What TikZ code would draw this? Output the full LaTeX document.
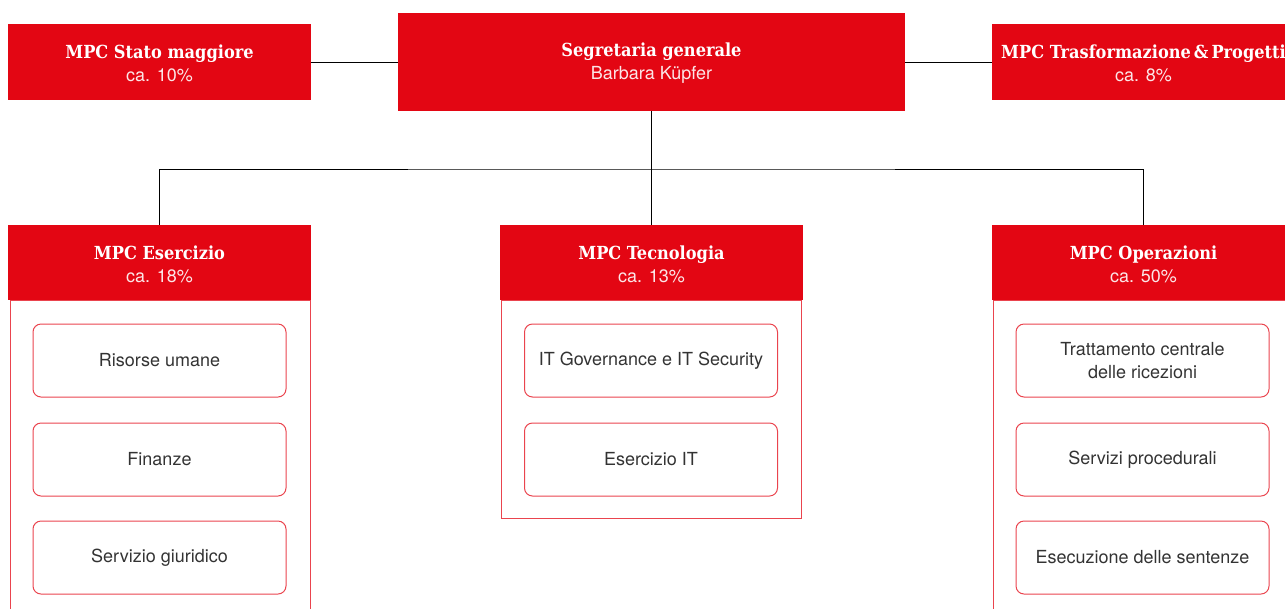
\documentclass[tikz,border=0pt]{standalone}
\usepackage{fontspec}
\setmainfont{TeX Gyre Heros}
\newfontfamily\slab{DejaVu Serif Condensed}
\usetikzlibrary{positioning}

\definecolor{mpcred}{HTML}{E30613}
\definecolor{txtgray}{HTML}{333333}
\newcommand\headtext[2]{\rule{0pt}{12.5pt}{\slab\bfseries #1}\\{\color{white!90!mpcred}#2}}

\begin{document}
\begin{tikzpicture}[x=0.75pt, y=-0.75pt, font=\fontsize{13.5}{17.25}\selectfont,
  head/.style={fill=mpcred, text=white, align=center, inner sep=0pt, minimum width=227.25pt, minimum height=56.5pt},
  unit/.style={draw=mpcred!75, line width=0.75pt, rounded corners=6pt, text=txtgray, align=center, inner sep=0pt, minimum width=189.75pt, minimum height=54.75pt},
  frame/.style={draw=mpcred!75, line width=0.75pt},
  link/.style={draw=black, line width=0.75pt}]
\useasboundingbox (0,0) rectangle (1285,608);

% top row
\node[head] (sm) at (159.5,62) {\headtext{MPC Stato maggiore}{ca. 10\%}};
\node[head, minimum width=380.25pt, minimum height=73.5pt] (sg) at (651.5,62) {\headtext{Segretaria generale}{Barbara Küpfer}};
\node[head] (tp) at (1143.5,62) {\headtext{MPC Trasformazione\,\&\,Progetti}{ca. 8\%}};
\draw[link] (sm) -- (sg);
\draw[link] (sg) -- (tp);

% frames behind the divisions
\draw[frame] (10,300) rectangle (310,640);
\draw[frame] (501,300) rectangle (801,518);
\draw[frame] (993,300) rectangle (1293,640);

% divisions
\node[head] (es) at (159.5,262.5) {\headtext{MPC Esercizio}{ca. 18\%}};
\node[head] (te) at (651.5,262.5) {\headtext{MPC Tecnologia}{ca. 13\%}};
\node[head] (op) at (1143.5,262.5) {\headtext{MPC Operazioni}{ca. 50\%}};
\coordinate (bus) at (651.5,169);
\draw[link] (sg) -- (te);
\draw[link] (es.north) |- (bus) -| (op.north);

% units
\node[unit] (es1) at (159.5,360.5) {Risorse umane};
\node[unit] (es2) at (159.5,459.5) {Finanze};
\node[unit] (es3) at (159.5,557.5) {Servizio giuridico};
\node[unit] (te1) at (651,360.5) {IT Governance e IT Security};
\node[unit] (te2) at (651,459.5) {Esercizio IT};
\node[unit] (op1) at (1142.5,360.5) {Trattamento centrale\\delle ricezioni};
\node[unit] (op2) at (1142.5,459.5) {Servizi procedurali};
\node[unit] (op3) at (1142.5,557.5) {Esecuzione delle sentenze};
\end{tikzpicture}
\end{document}
